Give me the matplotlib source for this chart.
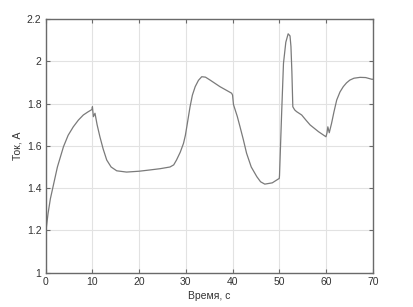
import matplotlib
matplotlib.use('Agg')
import matplotlib.pyplot as plt

# current trace
time_s = [0.0, 0.06, 0.5, 1.0, 1.6, 2.5, 3.8, 4.8, 5.9, 7.0, 8.05, 9.0, 9.9, 10.0,
          10.2, 10.55, 11.0, 11.6, 12.3, 13.06, 14.0, 15.2, 17.3, 20.0, 22.3, 24.5,
          26.6, 27.4, 28.0, 28.8, 29.5, 29.9, 30.2, 30.9, 31.4, 32.0, 32.7, 33.4,
          34.2, 35.2, 37.3, 39.8, 40.0, 40.2, 41.0, 41.6, 42.3, 43.0, 44.0, 45.2,
          46.0, 46.9, 48.5, 50.0, 50.05, 50.5, 50.9, 51.4, 51.9, 52.3, 52.5, 52.7,
          52.9, 53.3, 53.7, 54.8, 55.7, 56.6, 58.4, 60.0, 60.2, 60.4, 60.7, 61.2,
          61.7, 62.3, 63.0, 63.7, 64.4, 65.1, 66.0, 67.3, 68.5, 69.8, 70.0]
current_a = [1.17, 1.20, 1.28, 1.35, 1.41, 1.50, 1.596, 1.65, 1.69, 1.722, 1.746, 1.76,
             1.772, 1.785, 1.738, 1.754, 1.70, 1.643, 1.585, 1.533, 1.50, 1.482, 1.476,
             1.48, 1.486, 1.492, 1.50, 1.51, 1.533, 1.57, 1.612, 1.65, 1.69, 1.785,
             1.84, 1.88, 1.91, 1.927, 1.925, 1.911, 1.88, 1.849, 1.84, 1.795, 1.74,
             1.69, 1.63, 1.565, 1.50, 1.454, 1.43, 1.419, 1.425, 1.446, 1.46, 1.75,
             1.99, 2.09, 2.13, 2.12, 2.07, 1.95, 1.785, 1.77, 1.762, 1.746, 1.722,
             1.699, 1.667, 1.643, 1.66, 1.69, 1.662, 1.707, 1.76, 1.817, 1.855, 1.88,
             1.898, 1.911, 1.92, 1.924, 1.923, 1.915, 1.915]

x_ticks = [0, 10, 20, 30, 40, 50, 60, 70]
y_ticks = [1, 1.2, 1.4, 1.6, 1.8, 2, 2.2]
y_tick_labels = ['1', '1.2', '1.4', '1.6', '1.8', '2', '2.2']

plt.rcParams['font.family'] = ['Liberation Sans', 'DejaVu Sans']

fig = plt.figure(figsize=(4.13, 3.07), dpi=100)
ax = fig.add_axes([0.1107, 0.1117, 0.7917, 0.8264])

ax.plot(time_s, current_a, color='#7a7a7a', linewidth=0.9)

ax.set_xlim(0, 70)
ax.set_ylim(1, 2.2)
ax.set_xticks(x_ticks)
ax.set_yticks(y_ticks)
ax.set_yticklabels(y_tick_labels)
ax.grid(True, color='#e2e2e2', linewidth=0.8)
ax.set_axisbelow(True)
ax.tick_params(direction='in', length=3, width=0.8, top=True, right=True,
               labelsize=7.5, colors='#6a6a6a', labelcolor='#333333', pad=3)
for sp in ax.spines.values():
    sp.set_color('#6a6a6a')
    sp.set_linewidth(1.0)

ax.set_xlabel('Время, с', fontsize=7.5, color='#333333', labelpad=3)
ax.set_ylabel('Ток, А', fontsize=7.5, color='#333333', labelpad=3)

fig.savefig('out.png', dpi=100)
